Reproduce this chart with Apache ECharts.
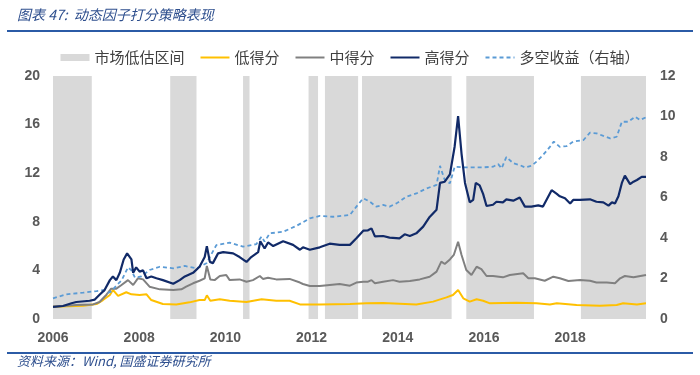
<!DOCTYPE html>
<html><head><meta charset="utf-8">
<script src="https://cdn.jsdelivr.net/npm/echarts@6/dist/echarts.min.js"></script>
<style>html,body{margin:0;padding:0;background:#fff}#c{width:700px;height:375px}</style>
</head><body><div id="c"></div>
<script>
// ---- data (decimal years) ----
const bandStart = [2006.00, 2008.72, 2010.41, 2011.93, 2012.31, 2013.17, 2015.59, 2018.25];
const bandEnd   = [2006.90, 2009.33, 2010.56, 2012.15, 2013.08, 2015.25, 2017.16, 2019.76];

const highX = [2006.00,2006.23,2006.43,2006.54,2006.85,2006.97,2007.08,2007.20,2007.32,2007.39,2007.47,2007.55,2007.64,2007.72,2007.82,2007.86,2007.93,2008.01,2008.09,2008.17,2008.28,2008.40,2008.55,2008.79,2008.94,2009.06,2009.25,2009.40,2009.52,2009.57,2009.64,2009.71,2009.83,2009.95,2010.18,2010.33,2010.49,2010.60,2010.76,2010.81,2010.91,2010.99,2011.11,2011.34,2011.57,2011.73,2011.80,2011.96,2012.19,2012.42,2012.65,2012.89,2013.04,2013.20,2013.31,2013.39,2013.47,2013.66,2013.81,2014.04,2014.16,2014.28,2014.43,2014.59,2014.74,2014.90,2014.98,2015.09,2015.21,2015.32,2015.40,2015.48,2015.56,2015.67,2015.75,2015.81,2015.90,2015.98,2016.06,2016.21,2016.29,2016.44,2016.52,2016.68,2016.83,2016.95,2017.10,2017.26,2017.37,2017.57,2017.69,2017.76,2017.88,2018.00,2018.07,2018.23,2018.46,2018.61,2018.77,2018.89,2018.97,2019.04,2019.12,2019.20,2019.27,2019.39,2019.47,2019.55,2019.66,2019.76];
const highY = [1.0,1.07,1.3,1.4,1.5,1.6,2.0,2.4,3.2,3.5,3.2,3.8,4.9,5.4,4.9,3.8,4.25,3.9,4.0,3.35,3.5,3.35,3.2,2.9,3.2,3.5,3.8,4.3,5.1,6.0,4.7,4.6,5.4,5.5,5.4,5.1,4.7,5.1,5.5,6.4,5.8,6.3,6.0,6.4,6.1,5.7,5.9,5.7,5.9,6.2,6.1,6.1,6.64,7.27,7.3,7.46,6.8,6.83,6.7,6.64,6.97,6.83,7.05,7.6,8.4,9.0,11.2,11.3,11.9,14.2,16.7,13.6,11.2,9.6,9.8,11.2,11.0,10.3,9.3,9.4,9.65,9.6,9.85,9.74,10.0,9.25,9.25,9.35,9.25,10.6,10.3,10.1,9.93,9.5,9.8,9.8,9.85,9.65,9.6,9.33,9.6,9.5,10.1,11.2,11.8,11.1,11.3,11.44,11.7,11.7];

const midX = [2006.00,2006.54,2006.93,2007.08,2007.24,2007.35,2007.47,2007.59,2007.74,2007.86,2007.97,2008.09,2008.24,2008.48,2008.79,2008.98,2009.09,2009.25,2009.40,2009.52,2009.57,2009.65,2009.75,2009.87,2010.02,2010.10,2010.33,2010.49,2010.64,2010.80,2010.87,2010.99,2011.18,2011.49,2011.73,2011.80,2011.96,2012.19,2012.42,2012.65,2012.89,2013.04,2013.20,2013.31,2013.39,2013.47,2013.66,2013.89,2014.04,2014.28,2014.51,2014.74,2014.90,2015.01,2015.09,2015.21,2015.30,2015.40,2015.48,2015.59,2015.71,2015.83,2015.94,2016.06,2016.21,2016.44,2016.60,2016.91,2017.03,2017.18,2017.41,2017.61,2017.76,2017.96,2018.23,2018.46,2018.61,2018.85,2019.04,2019.16,2019.27,2019.47,2019.76];
const midY = [1.0,1.15,1.2,1.4,2.0,2.5,2.5,2.8,3.2,2.8,3.35,3.26,2.66,2.44,2.39,2.44,2.66,2.94,3.15,3.35,4.36,3.26,3.2,3.54,3.62,3.2,3.26,3.07,3.2,3.54,3.3,3.4,3.26,3.3,3.0,2.88,2.72,2.72,2.8,2.88,2.74,3.0,3.07,3.07,3.2,2.94,3.07,3.2,3.07,3.13,3.26,3.48,3.9,4.72,4.53,4.9,5.27,6.36,5.27,4.03,3.62,4.3,4.1,3.54,3.54,3.43,3.62,3.76,3.35,3.35,3.15,3.48,3.35,3.13,3.2,3.15,3.0,3.0,2.94,3.35,3.54,3.43,3.62];

const lowX = [2006.00,2006.70,2007.01,2007.16,2007.32,2007.39,2007.51,2007.70,2007.82,2008.01,2008.17,2008.28,2008.55,2008.86,2009.17,2009.40,2009.52,2009.57,2009.65,2009.87,2010.10,2010.49,2010.84,2011.18,2011.49,2011.73,2012.19,2012.89,2013.27,2013.66,2014.43,2014.82,2015.13,2015.28,2015.40,2015.52,2015.67,2015.83,2015.98,2016.14,2016.75,2017.22,2017.53,2017.69,2018.15,2018.69,2019.08,2019.23,2019.55,2019.76];
const lowY = [1.0,1.1,1.23,1.56,1.98,2.39,1.9,2.2,2.03,1.98,2.03,1.56,1.23,1.2,1.37,1.56,1.56,1.95,1.5,1.62,1.5,1.4,1.62,1.5,1.5,1.2,1.2,1.23,1.29,1.32,1.2,1.43,1.78,1.98,2.39,1.7,1.43,1.62,1.5,1.29,1.34,1.29,1.2,1.29,1.15,1.1,1.15,1.29,1.2,1.29];

const lsX = [2006.00,2006.31,2006.70,2007.01,2007.16,2007.28,2007.35,2007.47,2007.59,2007.74,2007.82,2007.90,2008.05,2008.24,2008.48,2008.79,2009.06,2009.33,2009.56,2009.79,2010.10,2010.41,2010.72,2010.84,2010.91,2011.03,2011.34,2011.65,2011.96,2012.19,2012.50,2012.89,2013.04,2013.20,2013.35,2013.50,2013.66,2013.81,2013.97,2014.20,2014.43,2014.67,2014.90,2014.98,2015.09,2015.21,2015.32,2015.52,2015.98,2016.21,2016.33,2016.41,2016.52,2016.68,2016.83,2016.95,2017.10,2017.22,2017.37,2017.53,2017.62,2017.76,2017.92,2018.07,2018.31,2018.46,2018.61,2018.77,2018.93,2019.08,2019.20,2019.35,2019.51,2019.62,2019.76];
const lsY = [1.02,1.22,1.3,1.38,1.42,1.3,1.35,1.65,1.9,2.55,2.4,2.05,2.1,2.42,2.58,2.5,2.62,2.5,2.75,3.65,3.77,3.57,3.7,4.07,3.82,4.23,4.31,4.6,4.97,5.09,5.05,5.14,5.55,5.96,5.8,5.55,5.63,5.55,5.71,6.04,6.2,6.45,6.62,7.56,6.86,6.7,7.52,7.49,7.49,7.52,7.65,7.44,8.0,7.69,7.6,7.49,7.56,7.77,8.1,8.5,8.76,8.5,8.54,8.76,8.84,9.2,9.17,9.04,8.92,9.0,9.74,9.74,9.99,9.83,9.96];

const xTicks = [2006, 2008, 2010, 2012, 2014, 2016, 2018];
const names = ['市场低估区间', '低得分', '中得分', '高得分', '多空收益（右轴）'];

const zip = (xs, ys) => xs.map((x, i) => [x, ys[i]]);
const chart = echarts.init(document.getElementById('c'), null, {renderer: 'canvas'});
const labelFont = {color: '#595959', fontWeight: 'bold', fontSize: 14, fontFamily: 'Liberation Sans, Arial, sans-serif'};
const hidden = {opacity: 0};

chart.setOption({
  animation: false,
  grid: {left: 53, right: 54, top: 76, bottom: 56},
  legend: {
    top: 45, left: 'center', itemWidth: 29, itemHeight: 7, itemGap: 15,
    textStyle: {fontSize: 15, color: '#404040', fontFamily: 'Noto Sans CJK SC'},
    data: [
      {name: names[0], icon: 'rect', itemStyle: {color: '#D9D9D9', opacity: 1}},
      {name: names[1], itemStyle: hidden},
      {name: names[2], itemStyle: hidden},
      {name: names[3], itemStyle: hidden},
      {name: names[4], itemStyle: hidden}
    ]
  },
  xAxis: {
    type: 'value', min: 2006, max: bandEnd[bandEnd.length - 1], interval: 2,
    splitLine: {show: false}, axisLine: {show: false}, axisTick: {show: false},
    axisLabel: Object.assign({margin: 12, formatter: v => xTicks.includes(v) ? String(v) : ''}, labelFont)
  },
  yAxis: [
    {type: 'value', min: 0, max: 20, interval: 4, splitLine: {show: false}, axisLine: {show: false}, axisTick: {show: false},
     axisLabel: Object.assign({margin: 13}, labelFont)},
    {type: 'value', min: 0, max: 12, interval: 2, splitLine: {show: false}, axisLine: {show: false}, axisTick: {show: false},
     axisLabel: Object.assign({margin: 14}, labelFont)}
  ],
  series: [
    {
      name: names[0], type: 'custom', z: 1, itemStyle: {color: '#D9D9D9'},
      encode: {x: [0, 1]},
      data: bandStart.map((s, i) => [s, bandEnd[i]]),
      renderItem: (params, api) => {
        const a = api.coord([api.value(0), 20]);
        const b = api.coord([api.value(1), 0]);
        return {type: 'rect', shape: {x: a[0], y: a[1], width: b[0] - a[0], height: b[1] - a[1]}, style: {fill: '#D9D9D9'}};
      }
    },
    {name: names[1], type: 'line', z: 3, symbol: 'none', data: zip(lowX, lowY), color: '#FFC000', lineStyle: {width: 2, color: '#FFC000'}},
    {name: names[2], type: 'line', z: 3, symbol: 'none', data: zip(midX, midY), color: '#808080', lineStyle: {width: 2, color: '#808080'}},
    {name: names[3], type: 'line', z: 4, symbol: 'none', data: zip(highX, highY), color: '#112A68', lineStyle: {width: 2.2, color: '#112A68'}},
    {name: names[4], type: 'line', z: 3, yAxisIndex: 1, symbol: 'none', data: zip(lsX, lsY), color: '#5B9BD5', lineStyle: {width: 1.8, type: [4, 3], color: '#5B9BD5'}}
  ],
  graphic: [
    {type: 'text', left: 17, top: 8, style: {text: '图表 47:  动态因子打分策略表现', fill: '#2E4F8E', fontSize: 14, fontStyle: 'italic', fontFamily: 'Noto Sans CJK SC'}},
    {type: 'rect', left: 7, top: 30, shape: {width: 686, height: 2}, style: {fill: '#2B5BA6'}},
    {type: 'rect', left: 7, top: 352, shape: {width: 686, height: 2}, style: {fill: '#2B5BA6'}},
    {type: 'text', left: 17, top: 355, style: {text: '资料来源：Wind, 国盛证券研究所', fill: '#2E4F8E', fontSize: 13, fontStyle: 'italic', fontFamily: 'Noto Sans CJK SC'}}
  ]
});
</script></body></html>
